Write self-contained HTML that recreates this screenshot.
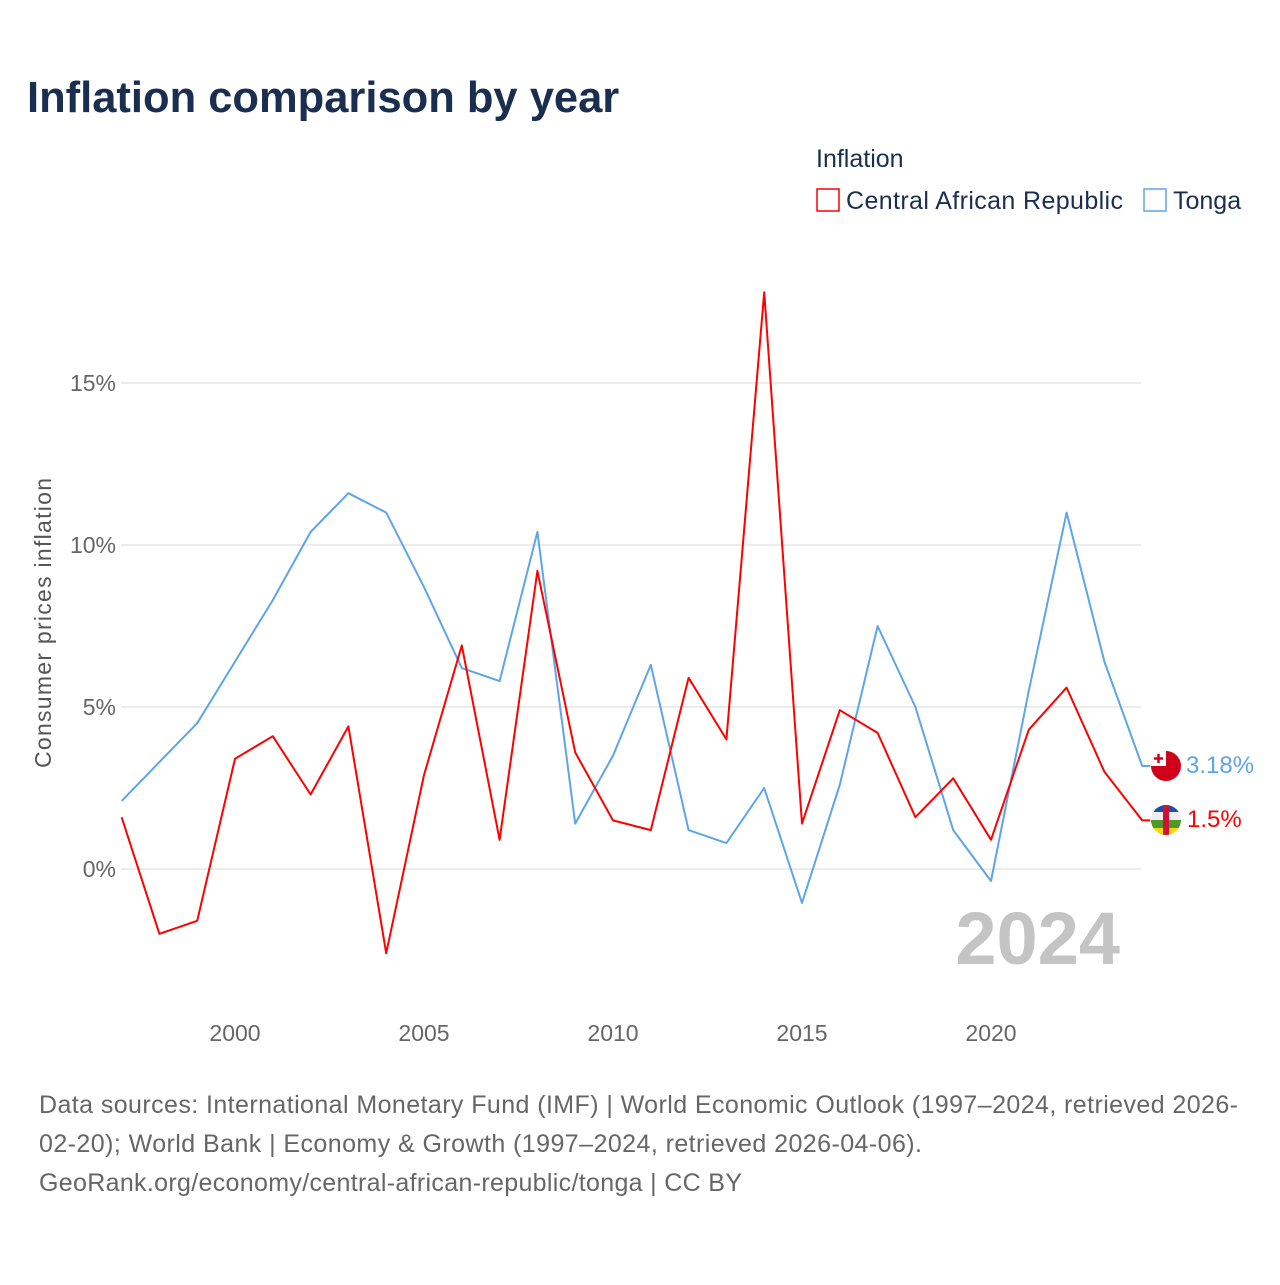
<!DOCTYPE html>
<html><head><meta charset="utf-8"><style>
body{margin:0;background:#fff;font-family:"Liberation Sans",sans-serif}
svg text{font-family:"Liberation Sans",sans-serif}
</style></head><body>
<svg width="1280" height="1280" viewBox="0 0 1280 1280">
<rect width="1280" height="1280" fill="#fff"/>
<text x="27" y="112" font-size="43.5" font-weight="bold" fill="#1a2e4f">Inflation comparison by year</text>
<text x="816" y="167" font-size="25" fill="#1a2e4f">Inflation</text>
<g><rect x="817" y="189" width="22" height="22" fill="none" stroke="#f00" stroke-width="1.5"/><text x="846" y="209" font-size="25" fill="#1a2e4f" textLength="277">Central African Republic</text></g>
<g><rect x="1144" y="189" width="22" height="22" fill="none" stroke="#5da5e8" stroke-width="1.5"/><text x="1173" y="209" font-size="25" fill="#1a2e4f">Tonga</text></g>
<g id="grid"></g><g id="yt"></g><g id="xt"></g>
<text transform="translate(51,623) rotate(-90)" text-anchor="middle" font-size="23" fill="#555" textLength="290">Consumer prices inflation</text>
<text x="1120" y="964" text-anchor="end" font-size="74" font-weight="bold" fill="#c4c4c4">2024</text>
<g id="series"></g>
<g><clipPath id="c1"><circle cx="1166" cy="766" r="15"/></clipPath><g clip-path="url(#c1)"><rect x="1150" y="750" width="32" height="32" fill="#d0021b"/><rect x="1151" y="751" width="15" height="15" fill="#fff"/><path d="M1158.5 754v9M1154 758.5h9" stroke="#d0021b" stroke-width="2.5"/></g></g>
<g><clipPath id="c2"><circle cx="1166" cy="820" r="15"/></clipPath><g clip-path="url(#c2)"><rect x="1150" y="804" width="32" height="8" fill="#1f4fa8"/><rect x="1150" y="812" width="32" height="8" fill="#eee"/><rect x="1150" y="820" width="32" height="8" fill="#4c9a2a"/><rect x="1150" y="828" width="32" height="8" fill="#f5d90a"/><rect x="1163" y="804" width="6" height="32" fill="#d21034"/></g></g>
<text x="1186" y="773" font-size="24" fill="#5da5e8">3.18%</text>
<text x="1187" y="827" font-size="24" fill="#f00">1.5%</text>
<text font-size="25" fill="#666"><tspan x="39" y="1113" textLength="1199">Data sources: International Monetary Fund (IMF) | World Economic Outlook (1997–2024, retrieved 2026-</tspan><tspan x="39" y="1152" textLength="883">02-20); World Bank | Economy &amp; Growth (1997–2024, retrieved 2026-04-06).</tspan><tspan x="39" y="1191" textLength="703">GeoRank.org/economy/central-african-republic/tonga | CC BY</tspan></text>
</svg>
<script>
const years=[1997,1998,1999,2000,2001,2002,2003,2004,2005,2006,2007,2008,2009,2010,2011,2012,2013,2014,2015,2016,2017,2018,2019,2020,2021,2022,2023,2024];
const carValues=[1.6,-2.0,-1.6,3.4,4.1,2.3,4.4,-2.6,2.9,6.9,0.9,9.2,3.6,1.5,1.2,5.9,4.0,17.8,1.4,4.9,4.2,1.6,2.8,0.9,4.3,5.6,3.0,1.5];
const tongaValues=[2.1,3.3,4.5,6.4,8.3,10.4,11.6,11.0,8.7,6.2,5.8,10.4,1.4,3.5,6.3,1.2,0.8,2.5,-1.05,2.6,7.5,5.0,1.2,-0.37,5.5,11.0,6.4,3.18];
const yTicks=[0,5,10,15];
const yTickLabels=["0%","5%","10%","15%"];
const xTicks=[2000,2005,2010,2015,2020];
const NS="http://www.w3.org/2000/svg";
const x=v=>121.6+(v-1997)*37.8;
const y=v=>869-v*32.4;
const grid=document.getElementById('grid'),yt=document.getElementById('yt'),xt=document.getElementById('xt'),ser=document.getElementById('series');
yTicks.forEach((t,i)=>{
 const l=document.createElementNS(NS,'line');
 l.setAttribute('x1',121);l.setAttribute('x2',1141);l.setAttribute('y1',y(t));l.setAttribute('y2',y(t));
 l.setAttribute('stroke','#e6e6e6');l.setAttribute('stroke-width','1.5');
 
 
 grid.appendChild(l);
 const tx=document.createElementNS(NS,'text');
 tx.setAttribute('x',116);tx.setAttribute('y',y(t)+8);tx.setAttribute('text-anchor','end');tx.setAttribute('font-size','23');tx.setAttribute('fill','#666');
 tx.textContent=yTickLabels[i];
 
 
 yt.appendChild(tx);
});
xTicks.forEach(t=>{
 const tx=document.createElementNS(NS,'text');
 tx.setAttribute('x',x(t));tx.setAttribute('y',1041);tx.setAttribute('text-anchor','middle');tx.setAttribute('font-size','23');tx.setAttribute('fill','#666');
 tx.textContent=t;
 
 
 xt.appendChild(tx);
});
function line(vals,color,name){
 const p=document.createElementNS(NS,'path');
 let d=vals.map((v,i)=>(i?'L':'M')+x(years[i]).toFixed(1)+' '+y(v).toFixed(1)).join(' ');
 d+=' h8';
 p.setAttribute('d',d);p.setAttribute('fill','none');p.setAttribute('stroke',color);p.setAttribute('stroke-width','2');p.setAttribute('stroke-linejoin','round');
 
 
 ser.appendChild(p);
}
line(tongaValues,'#5da5e8','tonga-line');
line(carValues,'#f00','car-line');
</script>
</body></html>
